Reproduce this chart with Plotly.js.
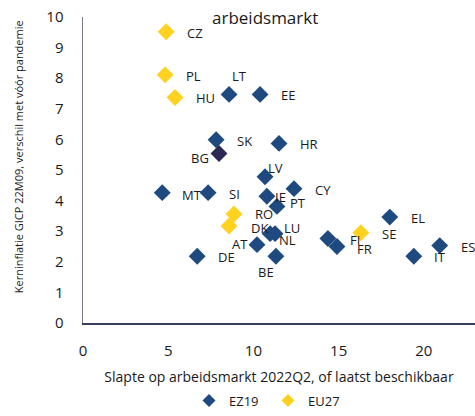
<!DOCTYPE html>
<html>
<head>
<meta charset="utf-8">
<script src="https://cdn.plot.ly/plotly-3.0.1.min.js"></script>
<style>html,body{margin:0;padding:0;background:#fff;}#chart{width:475px;height:416px;}</style>
</head>
<body>
<div id="chart"></div>
<script>
// EZ19 countries
const ezCountries = ["LT","EE","SK","HR","LV","CY","MT","SI","IE","PT","EL","LU","NL","AT","DE","BE","FI","FR","IT","ES"];
const ezSlack     = [8.57,10.39,7.81,11.50,10.68,12.38,4.65,7.34,10.79,11.38,18.00,11.27,10.98,10.21,6.70,11.32,14.37,14.90,19.41,20.93];
const ezInflation = [7.47,7.47,5.99,5.87,4.78,4.39,4.26,4.26,4.14,3.81,3.46,2.92,2.92,2.56,2.18,2.18,2.76,2.50,2.18,2.53];

// EU27 (non-euro) countries
const euCountries = ["CZ","PL","HU","RO","DK","SE"];
const euSlack     = [4.88,4.82,5.40,8.86,8.57,16.30];
const euInflation = [9.52,8.11,7.37,3.56,3.17,2.95];

// Bulgaria (separate colour)
const bgCountries = ["BG"];
const bgSlack     = [7.98];
const bgInflation = [5.54];

const seriesNames = ["EZ19", "EU27"];

// label offsets (pixels) – styling only
const labelOffsets = {
  LT:[10,-18], EE:[28,1], SK:[28,1], HR:[30,1], LV:[10,-9], CY:[29,1], MT:[30,2], SI:[26,1],
  IE:[14,1], PT:[21,-3], EL:[28,1], LU:[17,-6], NL:[17,6], AT:[-17,-1], DE:[29,1], BE:[-10,16],
  FI:[27,1], FR:[28,2], IT:[26,1], ES:[28,1],
  CZ:[29,1], PL:[28,1], HU:[30,1], RO:[30,0], DK:[30,2], SE:[28,1], BG:[-19,5]
};

const FONT = "Open Sans, Liberation Sans, sans-serif";
const BLUE = "#1F4A7F", YELLOW = "#FFD220", DARK = "#2C2A55";

const traces = [
  {x: ezSlack, y: ezInflation, name: seriesNames[0], type: "scatter", mode: "markers", showlegend: false,
   marker: {symbol: "diamond", size: 13, color: BLUE}, text: ezCountries, hoverinfo: "text+x+y"},
  {x: euSlack, y: euInflation, name: seriesNames[1], type: "scatter", mode: "markers", showlegend: false,
   marker: {symbol: "diamond", size: 13, color: YELLOW}, text: euCountries, hoverinfo: "text+x+y"},
  {x: bgSlack, y: bgInflation, name: "BG", type: "scatter", mode: "markers", showlegend: false,
   marker: {symbol: "diamond", size: 13, color: DARK}, text: bgCountries, hoverinfo: "text+x+y"},
  // legend entries (smaller symbols, as in the reference legend)
  {x: [null], y: [null], name: seriesNames[0], type: "scatter", mode: "markers",
   marker: {symbol: "diamond", size: 10, color: BLUE}},
  {x: [null], y: [null], name: seriesNames[1], type: "scatter", mode: "markers",
   marker: {symbol: "diamond", size: 10, color: YELLOW}}
];

const annotations = [];
function addLabels(names, xs, ys) {
  names.forEach((n, i) => {
    const o = labelOffsets[n] || [28, 0];
    annotations.push({x: xs[i], y: ys[i], xref: "x", yref: "y", text: n, showarrow: false,
      xshift: o[0], yshift: -o[1], font: {family: FONT, size: 13, color: "#1a1a1a"},
      xanchor: "center", yanchor: "middle"});
  });
}
addLabels(ezCountries, ezSlack, ezInflation);
addLabels(euCountries, euSlack, euInflation);
addLabels(bgCountries, bgSlack, bgInflation);

// visible second line of the (cropped) title
annotations.push({xref: "paper", yref: "paper", x: (265-83)/392, y: (329-18)/312, text: "arbeidsmarkt",
  showarrow: false, xanchor: "center", yanchor: "middle", font: {family: FONT, size: 17, color: "#1a1a1a"}});
// y axis title
annotations.push({xref: "paper", yref: "paper", x: (18-83)/392, y: (329-160)/312,
  text: "Kerninflatie GICP 22M09, verschil met vóór pandemie", textangle: -90, showarrow: false,
  xanchor: "center", yanchor: "middle", font: {family: FONT, size: 11, color: "#1a1a1a"}});

const layout = {
  width: 475, height: 416,
  margin: {l: 83, r: 0, t: 17, b: 87},
  paper_bgcolor: "#fff", plot_bgcolor: "#fff",
  font: {family: FONT, color: "#1a1a1a"},
  showlegend: true,
  xaxis: {range: [0, 23], tickvals: [0,5,10,15,20], showgrid: false, zeroline: false,
    showline: true, linecolor: "#3b3b5c", linewidth: 1.5, ticks: "", ticklabelstandoff: 13,
    tickfont: {family: FONT, size: 15, color: "#1a1a1a"},
    title: {text: "Slapte op arbeidsmarkt 2022Q2, of laatst beschikbaar", standoff: 13,
      font: {family: FONT, size: 14, color: "#1a1a1a"}}},
  yaxis: {range: [0, 10], dtick: 1, showgrid: false, zeroline: false,
    showline: true, linecolor: "#7a7a92", linewidth: 1.5, ticks: "", ticklabelstandoff: 15,
    tickfont: {family: FONT, size: 15, color: "#1a1a1a"}},
  legend: {orientation: "h", x: (268-83)/392, xanchor: "center", y: (329-408)/312, yanchor: "middle",
    font: {family: FONT, size: 13, color: "#1a1a1a"}, itemwidth: 30, entrywidth: 34, tracegroupgap: 0},
  annotations: annotations
};

Plotly.newPlot("chart", traces, layout, {staticPlot: true, displayModeBar: false});
</script>
</body>
</html>
